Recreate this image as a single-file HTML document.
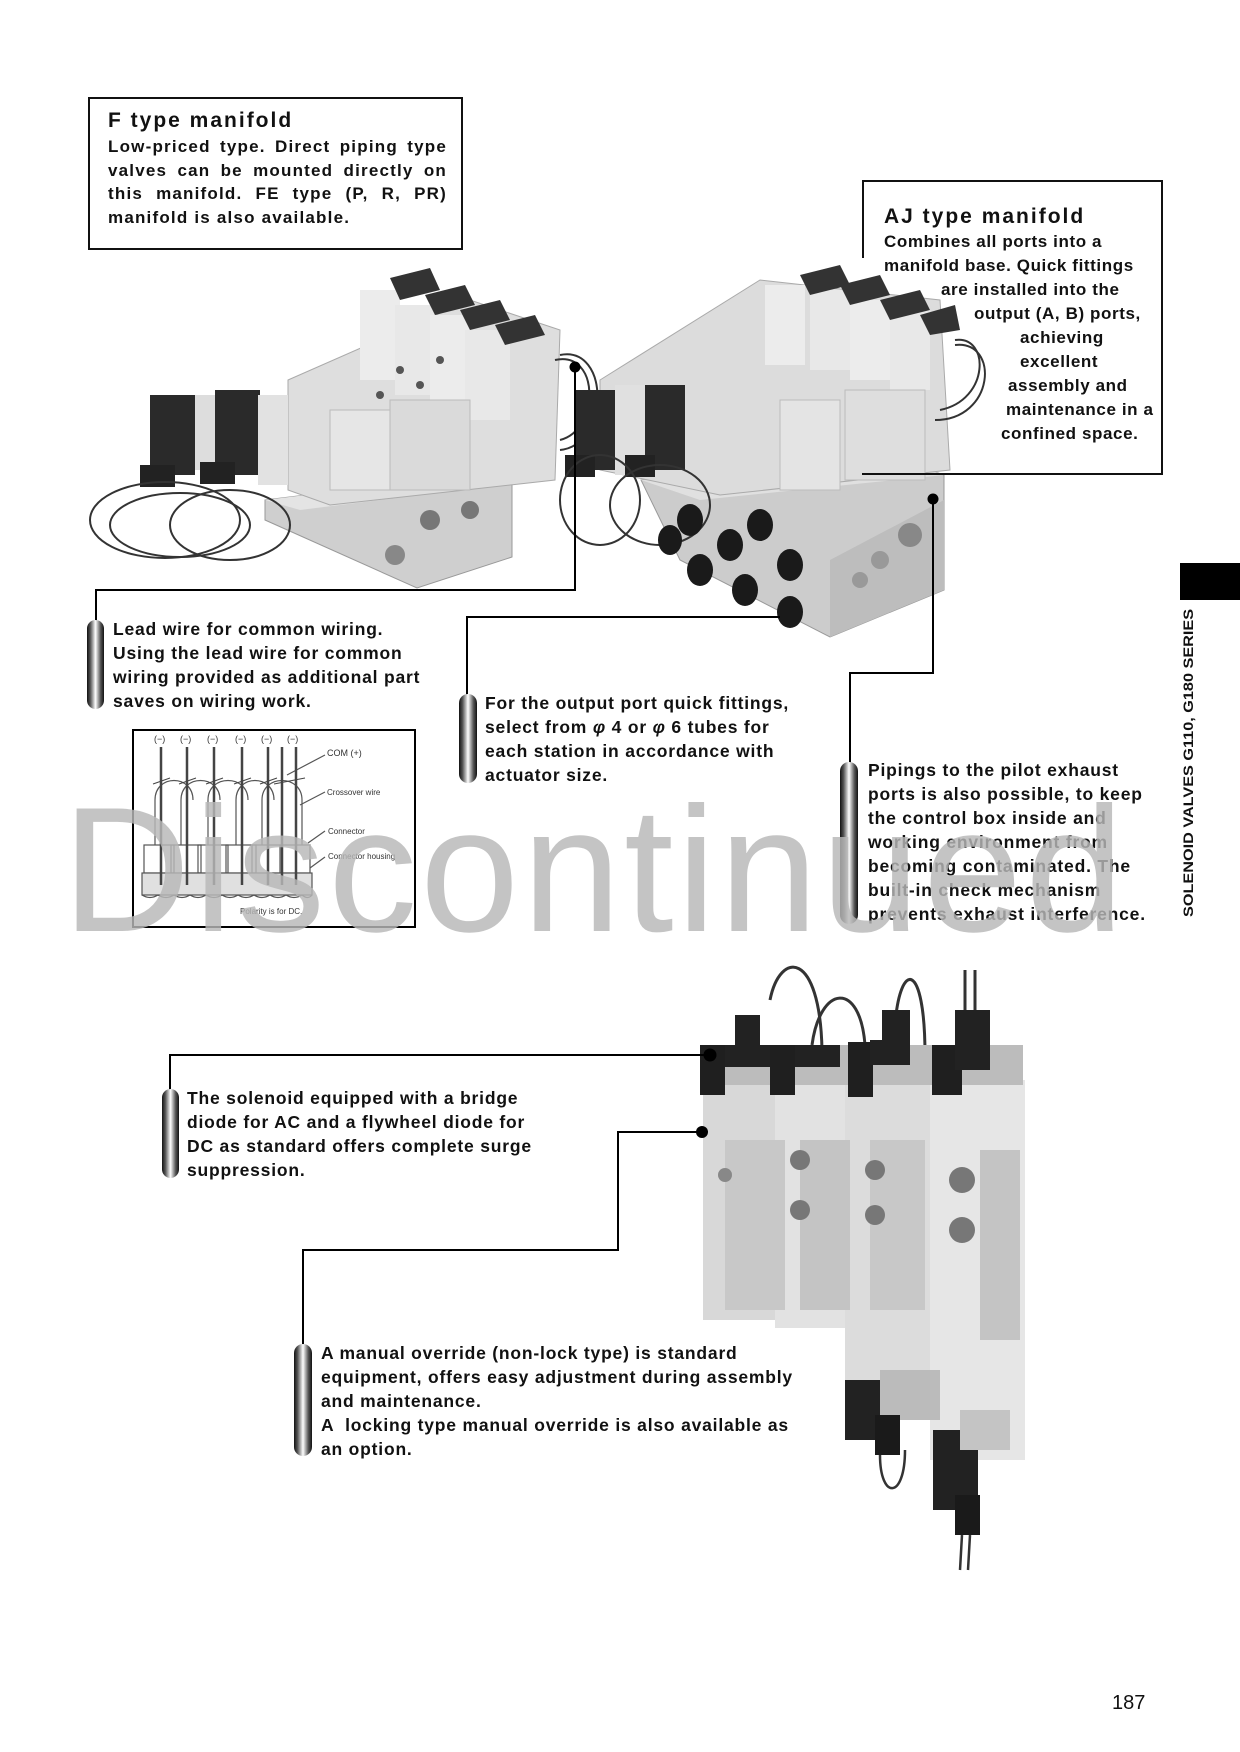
<!DOCTYPE html>
<html><head><meta charset="utf-8">
<style>
html,body{margin:0;padding:0;background:#fff;}
#p{position:relative;width:1240px;height:1752px;overflow:hidden;background:#fff;font-family:"Liberation Sans",Arial,sans-serif;color:#111;}
svg{position:absolute;left:0;top:0;}
.t{position:absolute;font-weight:bold;font-size:17.5px;line-height:24px;white-space:nowrap;letter-spacing:0.8px;}
.box{position:absolute;border:2px solid #111;box-sizing:border-box;}
.pill{position:absolute;border-radius:10px;background:linear-gradient(90deg,#111 0%,#555 20%,#fff 50%,#555 80%,#111 100%);}
.wm{position:absolute;left:62px;top:770px;font-size:178px;font-family:"Liberation Sans",Arial,sans-serif;color:#b8b8b8;opacity:0.82;letter-spacing:3px;line-height:200px;white-space:nowrap;}
.j{display:block;text-align:justify;text-align-last:justify;}
</style></head><body><div id="p">

<svg width="1240" height="1752" viewBox="0 0 1240 1752">
<g>
<polygon points="265,500 512,470 512,557 417,588 265,520" fill="#cfcfcf" stroke="#999"/>
<polygon points="265,500 512,470 540,480 300,510" fill="#e4e4e4"/>
<circle cx="430" cy="520" r="10" fill="#777"/><circle cx="470" cy="510" r="9" fill="#777"/><circle cx="395" cy="555" r="10" fill="#888"/>
<polygon points="288,380 470,300 560,330 555,480 330,505 288,490" fill="#dedede" stroke="#aaa"/>
<rect x="360" y="290" width="40" height="90" fill="#ececec"/>
<rect x="395" y="305" width="40" height="90" fill="#e8e8e8"/>
<rect x="430" y="315" width="40" height="90" fill="#ececec"/>
<rect x="465" y="330" width="45" height="90" fill="#e8e8e8"/>
<polygon points="390,278 430,268 440,290 400,300" fill="#333"/>
<polygon points="425,295 465,285 475,305 435,315" fill="#333"/>
<polygon points="460,310 500,300 510,320 470,330" fill="#333"/>
<polygon points="495,325 535,315 545,335 505,345" fill="#333"/>
<rect x="330" y="410" width="60" height="80" fill="#e6e6e6" stroke="#bbb"/>
<rect x="390" y="400" width="80" height="90" fill="#dadada" stroke="#bbb"/>
<circle cx="400" cy="370" r="4" fill="#555"/><circle cx="420" cy="385" r="4" fill="#555"/><circle cx="440" cy="360" r="4" fill="#555"/><circle cx="380" cy="395" r="4" fill="#555"/>
<rect x="150" y="395" width="45" height="80" fill="#2a2a2a"/>
<rect x="215" y="390" width="45" height="85" fill="#2a2a2a"/>
<rect x="195" y="395" width="20" height="75" fill="#ddd"/>
<rect x="258" y="395" width="30" height="90" fill="#e2e2e2"/>
<rect x="140" y="465" width="35" height="22" fill="#222"/><rect x="200" y="462" width="35" height="22" fill="#222"/>
<ellipse cx="165" cy="520" rx="75" ry="38" fill="none" stroke="#333" stroke-width="2"/>
<ellipse cx="180" cy="525" rx="70" ry="32" fill="none" stroke="#333" stroke-width="2"/>
<ellipse cx="230" cy="525" rx="60" ry="35" fill="none" stroke="#333" stroke-width="2"/>
<path d="M555,360 C600,350 600,430 560,440" fill="none" stroke="#333" stroke-width="2"/>
<path d="M560,355 C610,345 610,445 560,450" fill="none" stroke="#333" stroke-width="2"/>
</g>
<g>
<polygon points="641,480 900,460 944,475 944,590 830,637 680,560" fill="#cccccc" stroke="#999"/>
<polygon points="830,560 944,500 944,590 830,637" fill="#bdbdbd"/>
<polygon points="641,480 900,460 944,475 700,500" fill="#e0e0e0"/>
<circle cx="910" cy="535" r="12" fill="#888"/><circle cx="880" cy="560" r="9" fill="#999"/><circle cx="860" cy="580" r="8" fill="#999"/>
<polygon points="600,380 760,280 940,300 950,470 720,495 600,470" fill="#dcdcdc" stroke="#aaa"/>
<rect x="765" y="285" width="40" height="80" fill="#ececec"/><rect x="810" y="290" width="40" height="80" fill="#e8e8e8"/><rect x="850" y="300" width="40" height="80" fill="#ececec"/><rect x="890" y="310" width="40" height="80" fill="#e8e8e8"/>
<polygon points="800,275 840,265 850,285 810,295" fill="#333"/>
<polygon points="840,285 880,275 890,295 850,305" fill="#333"/>
<polygon points="880,300 920,290 930,310 890,320" fill="#333"/>
<polygon points="920,315 955,305 960,330 930,335" fill="#333"/>
<rect x="780" y="400" width="60" height="90" fill="#e4e4e4" stroke="#bbb"/>
<rect x="845" y="390" width="80" height="90" fill="#dedede" stroke="#bbb"/>
<rect x="575" y="390" width="40" height="80" fill="#2a2a2a"/>
<rect x="645" y="385" width="40" height="85" fill="#2a2a2a"/>
<rect x="615" y="385" width="30" height="90" fill="#e0e0e0"/>
<rect x="565" y="455" width="30" height="22" fill="#222"/><rect x="625" y="455" width="30" height="22" fill="#222"/>
<ellipse cx="600" cy="500" rx="40" ry="45" fill="none" stroke="#333" stroke-width="2"/>
<ellipse cx="660" cy="505" rx="50" ry="40" fill="none" stroke="#333" stroke-width="2"/>
<path d="M955,340 C990,335 990,400 940,410" fill="none" stroke="#333" stroke-width="2"/>
<path d="M955,345 C1000,340 995,420 935,420" fill="none" stroke="#333" stroke-width="2"/>
<g fill="#1a1a1a">
<ellipse cx="690" cy="520" rx="13" ry="16"/><ellipse cx="730" cy="545" rx="13" ry="16"/><ellipse cx="760" cy="525" rx="13" ry="16"/><ellipse cx="700" cy="570" rx="13" ry="16"/>
<ellipse cx="745" cy="590" rx="13" ry="16"/><ellipse cx="790" cy="565" rx="13" ry="16"/><ellipse cx="790" cy="612" rx="13" ry="16"/><ellipse cx="670" cy="540" rx="12" ry="15"/>
</g>
</g>
<g>
<path d="M770,1000 C780,950 820,950 822,1050" fill="none" stroke="#333" stroke-width="3"/>
<path d="M812,1045 C820,985 860,980 865,1045" fill="none" stroke="#333" stroke-width="3"/>
<path d="M895,1025 C900,960 925,960 925,1055" fill="none" stroke="#333" stroke-width="3"/>
<path d="M965,1010 L965,970 M975,1010 L975,970" fill="none" stroke="#333" stroke-width="3"/>
<rect x="703" y="1080" width="90" height="240" fill="#d8d8d8"/>
<rect x="775" y="1080" width="85" height="248" fill="#e2e2e2"/>
<rect x="845" y="1080" width="95" height="320" fill="#dcdcdc"/>
<rect x="930" y="1080" width="95" height="380" fill="#e6e6e6"/>
<rect x="725" y="1140" width="60" height="170" fill="#c8c8c8"/>
<rect x="800" y="1140" width="50" height="170" fill="#c4c4c4"/>
<rect x="870" y="1140" width="55" height="170" fill="#c8c8c8"/>
<rect x="980" y="1150" width="40" height="190" fill="#c4c4c4"/>
<rect x="703" y="1045" width="320" height="40" fill="#bcbcbc"/>
<rect x="700" y="1045" width="25" height="50" fill="#1f1f1f"/><rect x="725" y="1045" width="45" height="22" fill="#222"/><rect x="735" y="1015" width="25" height="32" fill="#222"/>
<rect x="770" y="1045" width="25" height="50" fill="#1f1f1f"/><rect x="795" y="1045" width="45" height="22" fill="#222"/>
<rect x="848" y="1042" width="25" height="55" fill="#1f1f1f"/><rect x="870" y="1040" width="40" height="25" fill="#222"/><rect x="882" y="1010" width="28" height="32" fill="#222"/>
<rect x="932" y="1045" width="30" height="50" fill="#1f1f1f"/><rect x="955" y="1010" width="35" height="60" fill="#222"/>
<circle cx="725" cy="1175" r="7" fill="#888"/><circle cx="800" cy="1160" r="10" fill="#777"/><circle cx="800" cy="1210" r="10" fill="#777"/>
<circle cx="875" cy="1170" r="10" fill="#777"/><circle cx="875" cy="1215" r="10" fill="#777"/>
<circle cx="962" cy="1180" r="13" fill="#777"/><circle cx="962" cy="1230" r="13" fill="#777"/>
<rect x="845" y="1380" width="50" height="60" fill="#222"/><rect x="880" y="1370" width="60" height="50" fill="#bbb"/>
<rect x="875" y="1415" width="25" height="40" fill="#1a1a1a"/>
<rect x="933" y="1430" width="45" height="80" fill="#222"/><rect x="960" y="1410" width="50" height="40" fill="#c4c4c4"/>
<rect x="955" y="1495" width="25" height="40" fill="#1a1a1a"/>
<path d="M880,1455 C880,1500 905,1500 905,1450" fill="none" stroke="#333" stroke-width="2.5"/>
<path d="M962,1535 L960,1570 M970,1535 L968,1570" stroke="#333" stroke-width="2.5"/>
</g>

<g stroke="#000" stroke-width="2" fill="none">
<polyline points="96,622 96,590 575,590 575,368"/>
<polyline points="467,696 467,617 780,617"/>
<polyline points="850,764 850,673 933,673 933,499"/>
<polyline points="170,1091 170,1055 710,1055"/>
<polyline points="303,1346 303,1250 618,1250 618,1132 702,1132"/>
</g>
<g fill="#000">
<circle cx="575" cy="367" r="5.5"/><circle cx="933" cy="499" r="5.5"/><circle cx="710" cy="1055" r="6.5"/><circle cx="702" cy="1132" r="6"/>
</g>

<g>
<rect x="133" y="730" width="282" height="197" fill="#fff" stroke="#000" stroke-width="2"/>
<g font-family="Liberation Sans, Arial, sans-serif" font-size="9" fill="#333">
<text x="154" y="742">(−)</text><text x="180" y="742">(−)</text><text x="207" y="742">(−)</text><text x="235" y="742">(−)</text><text x="261" y="742">(−)</text><text x="287" y="742">(−)</text>
<text x="327" y="756">COM (+)</text>
<text x="327" y="795" font-size="8">Crossover wire</text>
<text x="328" y="834" font-size="8">Connector</text>
<text x="328" y="859" font-size="8">Connector housing</text>
<text x="240" y="914" font-size="8">Polarity is for DC.</text>
</g>
<g stroke="#555" stroke-width="1.2" fill="none">
<path d="M155,845 L155,800 C155,774 193,774 193,800 M181,845 L181,800 C181,774 220,774 220,800 M208,845 L208,800 C208,774 248,774 248,800 M236,845 L236,800 C236,774 274,774 274,800 M262,845 L262,800 C262,774 302,774 302,800 L302,845"/>
<rect x="144" y="845" width="30" height="28"/><rect x="171" y="845" width="30" height="28"/><rect x="198" y="845" width="30" height="28"/><rect x="226" y="845" width="30" height="28"/><rect x="252" y="845" width="30" height="28"/><rect x="280" y="845" width="30" height="28"/>
<rect x="142" y="873" width="170" height="22" fill="#e0e0e0"/>
<path d="M142,895 Q150,900 158,895 Q166,900 174,895 Q182,900 190,895 Q198,900 206,895 Q214,900 222,895 Q230,900 238,895 Q246,900 254,895 Q262,900 270,895 Q278,900 286,895 Q294,900 302,895 Q308,900 312,895"/>
<path d="M325,755 L287,775 M325,792 L300,805 M325,831 L308,843 M325,857 L310,868"/>
</g>
<g stroke="#444" stroke-width="2.5">
<line x1="161" y1="747" x2="161" y2="885"/><line x1="187" y1="747" x2="187" y2="885"/><line x1="214" y1="747" x2="214" y2="885"/><line x1="242" y1="747" x2="242" y2="885"/><line x1="268" y1="747" x2="268" y2="885"/><line x1="282" y1="747" x2="282" y2="885"/><line x1="296" y1="747" x2="296" y2="885"/>
</g>
<g stroke="#444" stroke-width="1">
<line x1="153" y1="784" x2="170" y2="778"/><line x1="179" y1="784" x2="196" y2="778"/><line x1="206" y1="784" x2="223" y2="778"/><line x1="234" y1="784" x2="251" y2="778"/><line x1="260" y1="784" x2="277" y2="778"/><line x1="274" y1="784" x2="305" y2="778"/>
</g>
</g>
</svg>

<div class="box" style="left:88px;top:97px;width:375px;height:153px;"></div>
<div class="t" style="left:108px;top:109px;font-size:21px;letter-spacing:2px;">F type manifold</div>
<div class="t" style="left:108px;top:135px;width:339px;line-height:23.5px;font-size:17px;letter-spacing:1.2px;"><span class="j">Low-priced type. Direct piping type</span><span class="j">valves can be mounted directly on</span><span class="j">this manifold. FE type (P, R, PR)</span><span style="display:block">manifold is also available.</span></div>

<div class="box" style="left:862px;top:180px;width:301px;height:295px;border-left:none;border-bottom:2px solid #111;"></div>
<div style="position:absolute;left:862px;top:180px;width:2px;height:78px;background:#111;"></div>
<div class="t" style="left:884px;top:205px;font-size:21px;letter-spacing:2px;">AJ type manifold</div>
<div class="t" style="left:884px;top:230px;line-height:24px;font-size:17px;letter-spacing:0.6px;">Combines all ports into a<br>manifold base. Quick fittings<br><span style="padding-left:57px">are installed into the</span><br><span style="padding-left:90px">output (A, B) ports,</span><br><span style="padding-left:136px">achieving</span><br><span style="padding-left:136px">excellent</span><br><span style="padding-left:124px">assembly and</span><br><span style="padding-left:122px">maintenance in a</span><br><span style="padding-left:117px">confined space.</span></div>

<div class="pill" style="left:87px;top:620px;width:17px;height:89px;"></div>
<div class="t" style="left:113px;top:617px;">Lead wire for common wiring.<br>Using the lead wire for common<br>wiring provided as additional part<br>saves on wiring work.</div>

<div class="pill" style="left:459px;top:694px;width:18px;height:89px;"></div>
<div class="t" style="left:485px;top:691px;">For the output port quick fittings,<br>select from <i>φ</i> 4 or <i>φ</i> 6 tubes for<br>each station in accordance with<br>actuator size.</div>

<div class="pill" style="left:840px;top:762px;width:18px;height:162px;"></div>
<div class="t" style="left:868px;top:758px;">Pipings to the pilot exhaust<br>ports is also possible, to keep<br>the control box inside and<br>working environment from<br>becoming contaminated. The<br>built-in check mechanism<br>prevents exhaust interference.</div>

<div class="pill" style="left:162px;top:1089px;width:17px;height:89px;"></div>
<div class="t" style="left:187px;top:1086px;">The solenoid equipped with a bridge<br>diode for AC and a flywheel diode for<br>DC as standard offers complete surge<br>suppression.</div>

<div class="pill" style="left:294px;top:1344px;width:18px;height:112px;"></div>
<div class="t" style="left:321px;top:1341px;">A manual override (non-lock type) is standard<br>equipment, offers easy adjustment during assembly<br>and maintenance.<br>A &nbsp;locking type manual override is also available as<br>an option.</div>

<div class="wm">Discontinued</div>

<div style="position:absolute;left:1180px;top:563px;width:60px;height:37px;background:#000;"></div>
<div style="position:absolute;left:1181px;top:917px;transform-origin:0 0;transform:rotate(-90deg);font-weight:bold;font-size:14px;white-space:nowrap;line-height:14px;"><span style="display:inline-block;transform:scaleX(1.16);transform-origin:0 0;">SOLENOID VALVES G110, G180 SERIES</span></div>

<div style="position:absolute;left:1112px;top:1692px;font-size:20px;">187</div>
</div></body></html>
